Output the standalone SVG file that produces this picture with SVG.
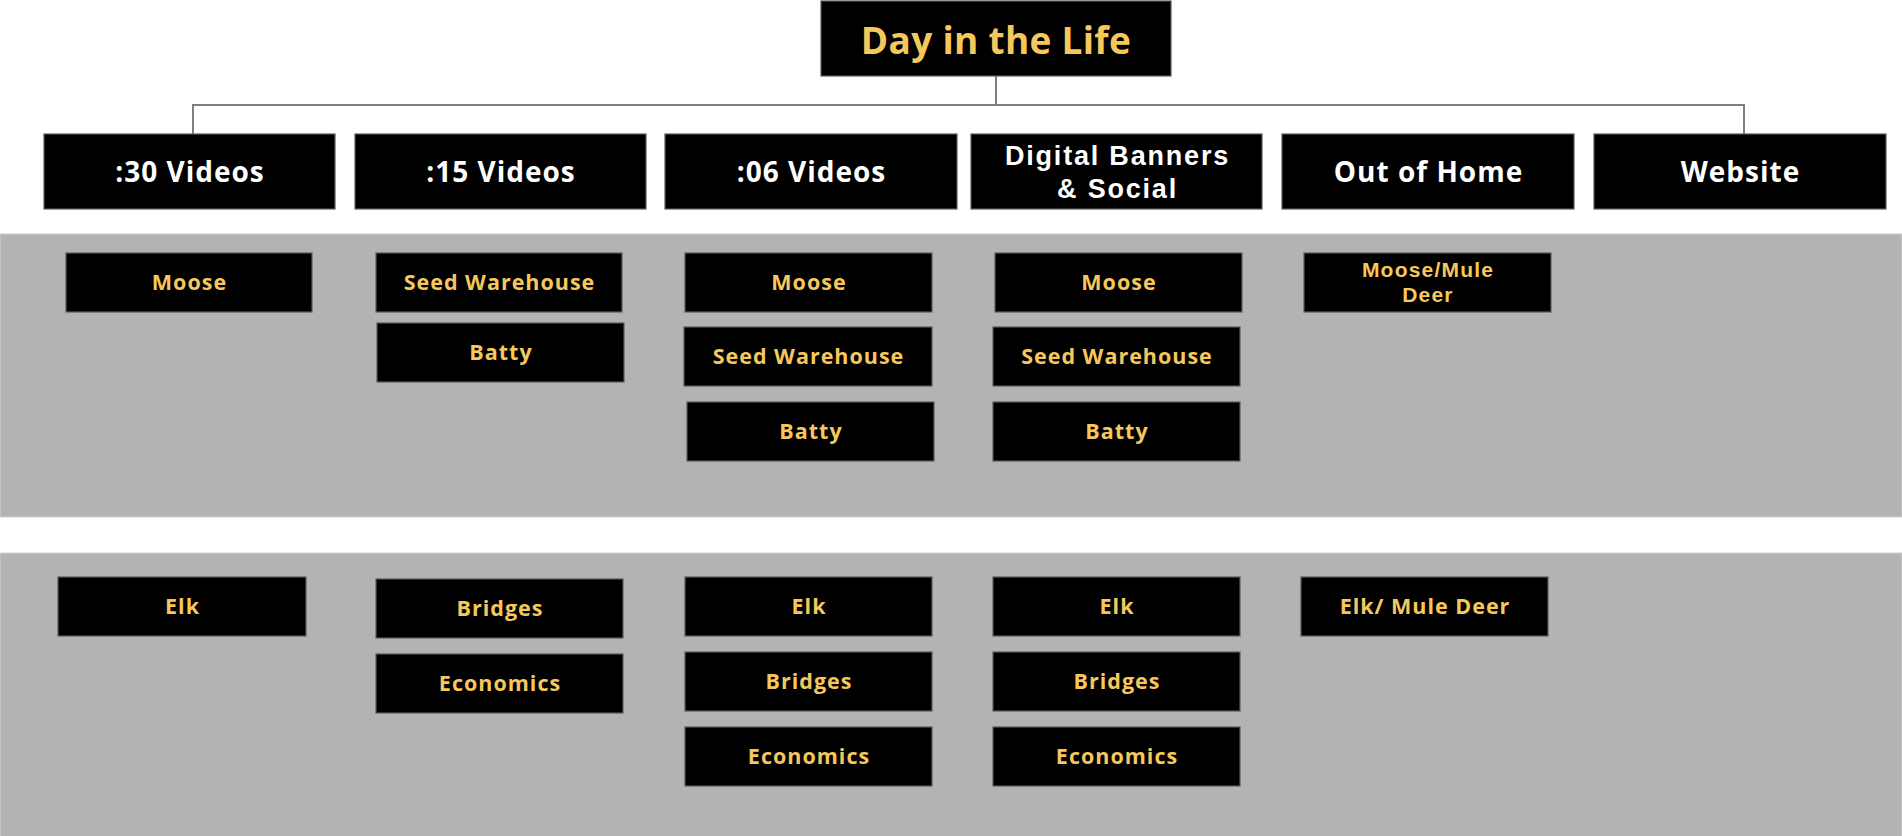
<svg xmlns="http://www.w3.org/2000/svg" width="1902" height="836" viewBox="0 0 1902 836">
<style>
.bg{fill:#ffffff}
.band{fill:#b3b3b3;stroke:#d0d0d0;stroke-width:1}
.box{fill:#000000;stroke:#5a5a5a;stroke-width:1.2}
.title{font-family:"Open Sans","Liberation Sans",sans-serif;font-weight:700;font-size:37px;letter-spacing:0.3px;fill:#f6c85c;text-anchor:middle}
.head{font-family:"Open Sans","Liberation Sans",sans-serif;font-weight:700;font-size:28px;letter-spacing:1px;fill:#ffffff;text-anchor:middle}
.item{font-family:"Open Sans","Liberation Sans",sans-serif;font-weight:700;font-size:21.5px;letter-spacing:1px;fill:#f6c85c;text-anchor:middle}
.two{font-family:"Liberation Sans",Arial,sans-serif}
.head.two{font-size:27px;letter-spacing:1.8px}
.item.two{font-size:21px;letter-spacing:1.2px}
.conn{fill:none;stroke:#7f7f7f;stroke-width:2}
</style>
<rect class="bg" x="0" y="0" width="1902" height="836"/>
<rect class="band" x="0" y="234" width="1902" height="283"/>
<rect class="band" x="0" y="553" width="1902" height="284"/>
<g id="connectors">
<path class="conn" d="M996 76 V105"/>
<path class="conn" d="M193 134 V105 H1744 V134"/>
</g>
<g id="title"><rect class="box" x="821" y="1" width="350" height="75"/><text class="title" x="996" y="54">Day in the Life</text></g>
<g id="h30"><rect class="box" x="44" y="134" width="291" height="75"/><text class="head" x="190" y="182">:30 Videos</text></g>
<g id="h15"><rect class="box" x="355" y="134" width="291" height="75"/><text class="head" x="501" y="182">:15 Videos</text></g>
<g id="h06"><rect class="box" x="665" y="134" width="292" height="75"/><text class="head" x="811.5" y="182">:06 Videos</text></g>
<g id="hdb"><rect class="box" x="971" y="134" width="291" height="75"/><text class="head two"><tspan x="1117.5" y="165">Digital Banners</tspan><tspan x="1117.5" y="198">&amp; Social</tspan></text></g>
<g id="hooh"><rect class="box" x="1282" y="134" width="292" height="75"/><text class="head" x="1428.5" y="182">Out of Home</text></g>
<g id="hweb"><rect class="box" x="1594" y="134" width="292" height="75"/><text class="head" x="1740.5" y="182">Website</text></g>
<g id="moose30"><rect class="box" x="66" y="253" width="246" height="59"/><text class="item" x="189.5" y="290">Moose</text></g>
<g id="seed15"><rect class="box" x="376" y="253" width="246" height="59"/><text class="item" x="499.5" y="290">Seed Warehouse</text></g>
<g id="batty15"><rect class="box" x="377" y="323" width="247" height="59"/><text class="item" x="501" y="360">Batty</text></g>
<g id="moose06"><rect class="box" x="685" y="253" width="247" height="59"/><text class="item" x="809" y="290">Moose</text></g>
<g id="seed06"><rect class="box" x="684" y="327" width="248" height="59"/><text class="item" x="808.5" y="364">Seed Warehouse</text></g>
<g id="batty06"><rect class="box" x="687" y="402" width="247" height="59"/><text class="item" x="811" y="439">Batty</text></g>
<g id="moosedb"><rect class="box" x="995" y="253" width="247" height="59"/><text class="item" x="1119" y="290">Moose</text></g>
<g id="seeddb"><rect class="box" x="993" y="327" width="247" height="59"/><text class="item" x="1117" y="364">Seed Warehouse</text></g>
<g id="battydb"><rect class="box" x="993" y="402" width="247" height="59"/><text class="item" x="1117" y="439">Batty</text></g>
<g id="moosemule"><rect class="box" x="1304" y="253" width="247" height="59"/><text class="item two"><tspan x="1428" y="277">Moose/Mule</tspan><tspan x="1428" y="302">Deer</tspan></text></g>
<g id="elk30"><rect class="box" x="58" y="577" width="248" height="59"/><text class="item" x="182.5" y="614">Elk</text></g>
<g id="bridges15"><rect class="box" x="376" y="579" width="247" height="59"/><text class="item" x="500" y="616">Bridges</text></g>
<g id="econ15"><rect class="box" x="376" y="654" width="247" height="59"/><text class="item" x="500" y="691">Economics</text></g>
<g id="elk06"><rect class="box" x="685" y="577" width="247" height="59"/><text class="item" x="809" y="614">Elk</text></g>
<g id="bridges06"><rect class="box" x="685" y="652" width="247" height="59"/><text class="item" x="809" y="689">Bridges</text></g>
<g id="econ06"><rect class="box" x="685" y="727" width="247" height="59"/><text class="item" x="809" y="764">Economics</text></g>
<g id="elkdb"><rect class="box" x="993" y="577" width="247" height="59"/><text class="item" x="1117" y="614">Elk</text></g>
<g id="bridgesdb"><rect class="box" x="993" y="652" width="247" height="59"/><text class="item" x="1117" y="689">Bridges</text></g>
<g id="econdb"><rect class="box" x="993" y="727" width="247" height="59"/><text class="item" x="1117" y="764">Economics</text></g>
<g id="elkmule"><rect class="box" x="1301" y="577" width="247" height="59"/><text class="item" x="1425" y="614">Elk/ Mule Deer</text></g>
</svg>
